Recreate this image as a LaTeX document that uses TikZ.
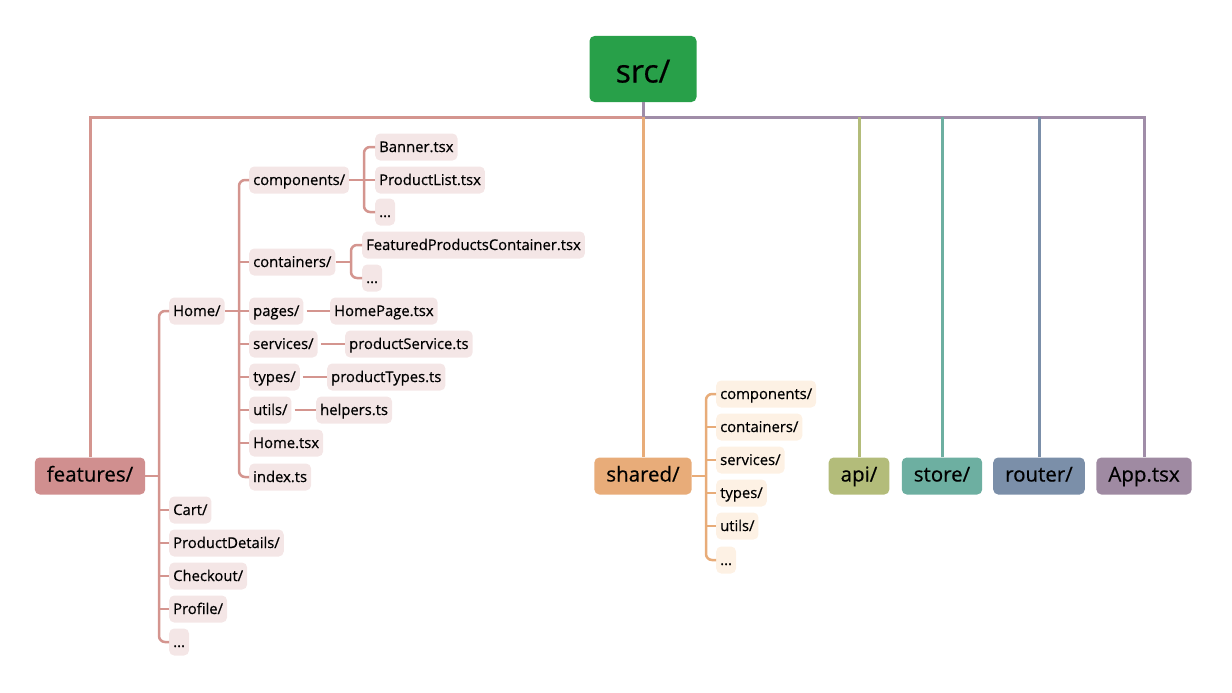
\documentclass[tikz,border=0pt]{standalone}
\usepackage{fontspec}
\setmainfont{Open Sans}[FakeBold=0.5]
\definecolor{srcgreen}{HTML}{28A049}
\definecolor{featc}{HTML}{D08F8F}
\definecolor{featline}{HTML}{D4958F}
\definecolor{sharedc}{HTML}{E8AC79}
\definecolor{apic}{HTML}{B3BC7A}
\definecolor{storec}{HTML}{6DAFA1}
\definecolor{routerc}{HTML}{7B8FA9}
\definecolor{appc}{HTML}{9F8AA2}
\definecolor{busr}{HTML}{A08DA8}
\definecolor{pinkfill}{HTML}{F4E6E6}
\definecolor{orangefill}{HTML}{FDF1E4}
\tikzset{
  big/.style={rounded corners=5pt, text=black, font=\fontsize{20.5}{24}\selectfont, minimum height=37pt, inner xsep=12pt, inner ysep=0pt, text height=14pt, text depth=3pt},
  leaf/.style={rounded corners=5pt, font=\fontsize{14.8}{18}\selectfont, minimum height=27pt, inner xsep=4pt, inner ysep=0pt, anchor=west, text height=12pt, text depth=2pt},
  pleaf/.style={leaf, fill=pinkfill},
  oleaf/.style={leaf, fill=orangefill},
  pline/.style={draw=featline, line width=2.5pt},
  oline/.style={draw=sharedc, line width=2.5pt},
  bus/.style={line width=3pt},
}
\begin{document}
\begin{tikzpicture}[x=1pt,y=-1pt]
\useasboundingbox (0,0) rectangle (1232,693);
% top level
\node[rounded corners=5pt, fill=srcgreen, minimum width=107pt, minimum height=66pt, font=\fontsize{32}{36}\selectfont, text height=27pt, text depth=0pt] (src) at (643,69) {src/};
\node[big, fill=featc] (feat) at (90,476) {features/};
\node[big, fill=sharedc] (shared) at (643,476) {shared/};
\node[big, fill=apic] (api) at (859,476) {api/};
\node[big, fill=storec] (store) at (942,476) {store/};
\node[big, fill=routerc] (router) at (1039,476) {router/};
\node[big, fill=appc] (app) at (1144,476) {App.tsx};
\coordinate (bus) at (643,117);
\draw[bus, featline] (feat.north) |- (bus);
\draw[bus, busr] (src.south) -- (bus) -| (app.north);
\draw[bus, sharedc] (bus) -- (shared.north);
\draw[bus, apic] (api.north) -- (api.north |- bus);
\draw[bus, storec] (store.north) -- (store.north |- bus);
\draw[bus, routerc] (router.north) -- (router.north |- bus);
% features children
\node[pleaf] (home) at (169,311) {Home/};
\node[pleaf] (cart) at (169,510) {Cart/};
\node[pleaf] (pd) at (169,543) {ProductDetails/};
\node[pleaf] (chk) at (169,576) {Checkout/};
\node[pleaf] (prof) at (169,609) {Profile/};
\node[pleaf] (fdots) at (169,642) {...};
\coordinate (tF) at (159,0);
\draw[pline, rounded corners=6pt] (home.west) -- (tF |- home.west) -- (tF |- fdots.west) -- (fdots.west);
\foreach \n in {cart,pd,chk,prof} \draw[pline] (tF |- \n.west) -- (\n.west);
\draw[pline] (feat.east) -- (tF |- feat.east);
% home children
\node[pleaf] (comp) at (249,180) {components/};
\node[pleaf] (cont) at (249,262) {containers/};
\node[pleaf] (pages) at (249,311) {pages/};
\node[pleaf] (serv) at (249,344) {services/};
\node[pleaf] (types) at (249,377) {types/};
\node[pleaf] (utils) at (249,410) {utils/};
\node[pleaf] (htsx) at (249,443) {Home.tsx};
\node[pleaf] (idx) at (249,477) {index.ts};
\coordinate (tH) at (239,0);
\draw[pline, rounded corners=6pt] (comp.west) -- (tH |- comp.west) -- (tH |- idx.west) -- (idx.west);
\foreach \n in {cont,pages,serv,types,utils,htsx} \draw[pline] (tH |- \n.west) -- (\n.west);
\draw[pline] (home.east) -- (tH |- home.east);
% components children
\node[pleaf] (banner) at (375,147) {Banner.tsx};
\node[pleaf] (plist) at (375,180) {ProductList.tsx};
\node[pleaf] (cdots) at (375,212) {...};
\coordinate (tC) at (364,0);
\draw[pline, rounded corners=6pt] (banner.west) -- (tC |- banner.west) -- (tC |- cdots.west) -- (cdots.west);
\draw[pline] (comp.east) -- (plist.west);
% containers children
\node[pleaf] (fpc) at (362,245) {FeaturedProductsContainer.tsx};
\node[pleaf] (kdots) at (362,278) {...};
\coordinate (tK) at (351,0);
\draw[pline, rounded corners=6pt] (fpc.west) -- (tK |- fpc.west) -- (tK |- kdots.west) -- (kdots.west);
\draw[pline] (cont.east) -- (tK |- cont.east);
% single children
\node[pleaf] (hp) at (330,311) {HomePage.tsx};
\node[pleaf] (ps) at (345,344) {productService.ts};
\node[pleaf] (pt) at (327,377) {productTypes.ts};
\node[pleaf] (help) at (316,410) {helpers.ts};
\draw[pline] (pages.east) ++(3,0) -- (hp.west);
\draw[pline] (serv.east) ++(3,0) -- (ps.west);
\draw[pline] (types.east) ++(3,0) -- (pt.west);
\draw[pline] (utils.east) ++(3,0) -- (help.west);
% shared children
\node[oleaf] (scomp) at (716,394) {components/};
\node[oleaf] (scont) at (716,427) {containers/};
\node[oleaf] (sserv) at (716,460) {services/};
\node[oleaf] (stypes) at (716,493) {types/};
\node[oleaf] (sutils) at (716,526) {utils/};
\node[oleaf] (sdots) at (716,560) {...};
\coordinate (tS) at (706,0);
\draw[oline, rounded corners=6pt] (scomp.west) -- (tS |- scomp.west) -- (tS |- sdots.west) -- (sdots.west);
\foreach \n in {scont,sserv,stypes,sutils} \draw[oline] (tS |- \n.west) -- (\n.west);
\draw[oline] (shared.east) -- (tS |- shared.east);
\end{tikzpicture}
\end{document}
